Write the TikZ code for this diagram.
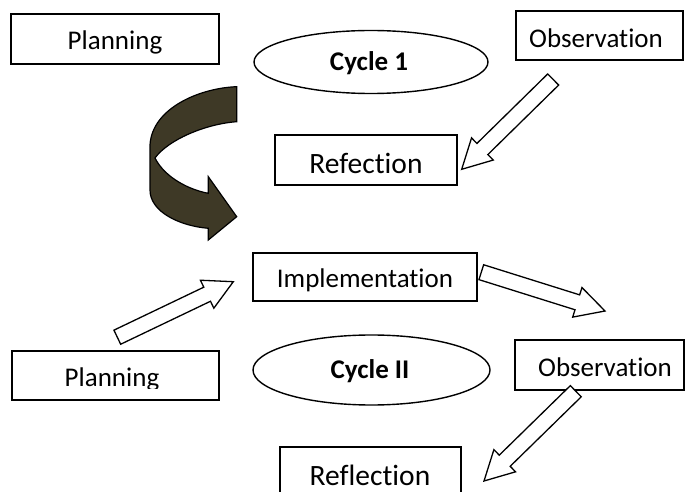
\documentclass[tikz,border=0pt]{standalone}
\usepackage{fontspec}
\setmainfont[Ligatures={NoCommon}]{Carlito}
\usetikzlibrary{calc,shapes.geometric}
\definecolor{olivedark}{RGB}{62,57,38}
\tikzset{
  box/.style={draw=black, line width=1.4pt, rectangle, inner sep=0pt},
  oval/.style={draw=black, line width=1.4pt, ellipse, inner sep=0pt},
  lbl/.style={font=\fontsize{27}{32}\selectfont, inner sep=0pt},
  biglbl/.style={font=\fontsize{29.5}{34}\selectfont, inner sep=0pt},
  blbl/.style={font=\fontsize{27}{32}\selectfont\bfseries, inner sep=0pt},
  hollowarrow/.style={draw=black, fill=white, line width=1.3pt, line join=miter},
}
\newcommand{\myblockarrow}[2]{%
  \coordinate (base-#1) at ($(#2)!29pt!(#1)$);
  \draw[hollowarrow] ($(#1)!7.8pt!90:(#2)$) -- ($(base-#1)!7.8pt!90:(#2)$)
    -- ($(base-#1)!15.5pt!90:(#2)$) -- (#2)
    -- ($(base-#1)!15.5pt!-90:(#2)$) -- ($(base-#1)!7.8pt!-90:(#2)$)
    -- ($(#1)!7.8pt!-90:(#2)$) -- cycle;
}
\begin{document}
\begin{tikzpicture}[x=1pt,y=-1pt]
\clip (0,0) rectangle (686,492);
\fill[white] (0,0) rectangle (686,492);

% boxes
\node[box, minimum width=208pt, minimum height=50pt] (plan1) at (115,39) {};
\node[lbl] (plan1t) at (115,42) {Planning};

\node[oval, minimum width=234pt, minimum height=63pt] (cyc1) at (371,62) {};
\node[blbl] (cyc1t) at (369,63) {Cycle 1};

\node[box, minimum width=167pt, minimum height=49pt] (obs1) at (599.5,35.5) {};
\node[lbl] (obs1t) at (596,38) {Observation};

\node[box, minimum width=182pt, minimum height=50pt] (ref1) at (366,160) {};
\node[biglbl] (ref1t) at (366,163) {Refection};

\node[box, minimum width=224pt, minimum height=48pt] (impl) at (365,277) {};
\node[lbl] (implt) at (365,280) {Implementation};

\node[box, minimum width=207pt, minimum height=49pt] (plan2) at (115.5,375.5) {};
\begin{scope}
  \clip (12,351) rectangle (219,388);
  \node[lbl] (plan2t) at (112,379) {Planning};
\end{scope}

\node[oval, minimum width=237pt, minimum height=70pt] (cyc2) at (371.5,370) {};
\node[blbl] (cyc2t) at (370,371) {Cycle II};

\node[box, minimum width=169pt, minimum height=50pt] (obs2) at (599.5,365) {};
\node[lbl] (obs2t) at (605,367) {Observation};

\node[box, minimum width=181pt, minimum height=56pt] (ref2) at (370.5,475) {};
\node[biglbl] (ref2t) at (370,475) {Reflection};

% curved arrow
\draw[fill=olivedark, draw=black, line width=1.2pt, line join=miter]
  (236.7,86.7) .. controls (200,88) and (152,108) .. (150,145)
  -- (150,190) .. controls (150,212) and (180,226) .. (208.3,228.3)
  -- (208.3,240) -- (236.7,216.7) -- (208.3,176.7) -- (208.3,193.3)
  .. controls (190,190) and (165,178) .. (155,158)
  .. controls (168,140) and (205,124) .. (236.7,121.7) -- cycle;

% block arrows
\coordinate (a1t) at (553.2,79.5);
\coordinate (a1h) at (461.7,169.3);
\coordinate (a2t) at (117.3,337.2);
\coordinate (a2h) at (233.3,281.7);
\coordinate (a3t) at (481.3,272.2);
\coordinate (a3h) at (605,311);
\coordinate (a4t) at (575.8,391.2);
\coordinate (a4h) at (484,481);
\myblockarrow{a1t}{a1h}
\myblockarrow{a2t}{a2h}
\myblockarrow{a3t}{a3h}
\myblockarrow{a4t}{a4h}
\end{tikzpicture}
\end{document}
